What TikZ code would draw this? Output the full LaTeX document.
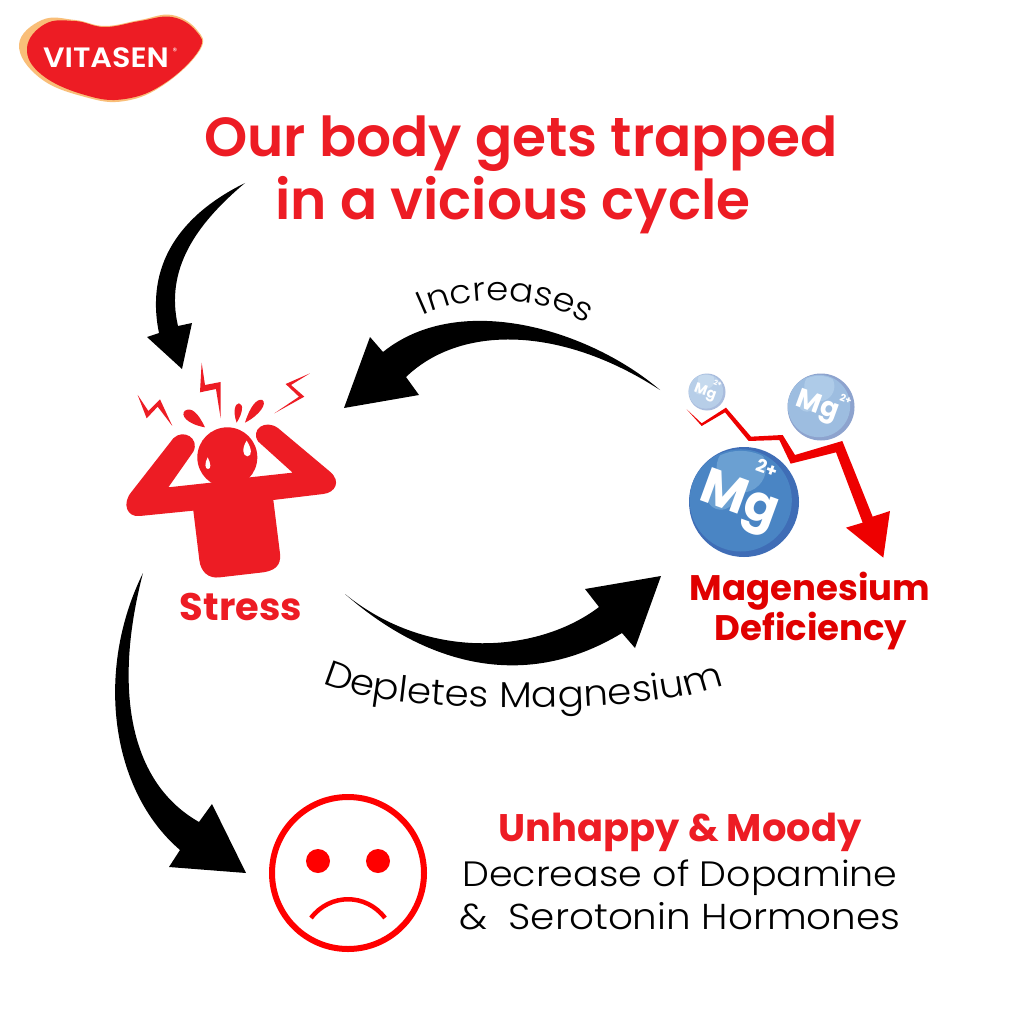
\documentclass[tikz,border=0pt]{standalone}
\usepackage{fontspec}
\setmainfont{Poppins}
\newfontfamily\semifont{Poppins SemiBold}
\newfontfamily\logofont[FakeStretch=1.08]{Poppins SemiBold}
\newfontfamily\plainfont[FakeStretch=1.08]{Poppins Light}
\usepackage{tikz}
\usetikzlibrary{decorations.text}
\definecolor{vitared}{HTML}{ED1C24}
\definecolor{vitapeach}{HTML}{F9BE78}
\definecolor{defred}{HTML}{E00000}
\definecolor{purered}{HTML}{FF0000}
\definecolor{arrowred}{HTML}{EE0000}
\def\Sz#1{\fontsize{#1}{#1}\selectfont}
\tikzset{x=1pt, y=-1pt,
  title text/.style={anchor=base, text=vitared, font=\Sz{55}\semifont},
  red label/.style={text=vitared, font=\Sz{38.4}\bfseries},
  deficiency label/.style={text=defred, font=\Sz{35.5}\bfseries},
  plain label/.style={font=\Sz{35.2}\plainfont},
  logo text/.style={text=white, font=\Sz{28}\logofont},
  sweep arrow/.style={fill=black},
  mg text/.style={text=white, rotate=-20}
}
\def\MgBall#1#2#3#4#5#6{%
\begin{scope}[shift={(#1,#2)}]
  \fill[#5] (0,0) circle (#3);
  \fill[#4] (-0.06*#3,-0.03*#3) circle (0.93*#3);
  \begin{scope}
    \clip (-0.06*#3,-0.03*#3) circle (0.90*#3);
    \fill[#6] (-0.05*#3,-0.62*#3) circle (0.45*#3);
    \fill[#6] (-0.42*#3,-0.12*#3) circle (0.26*#3);
  \end{scope}
\end{scope}
}
\begin{document}
\begin{tikzpicture}
\useasboundingbox (0,0) rectangle (1024,1024);
\fill[white] (0,0) rectangle (1024,1024);
% logo
\fill[vitapeach] plot[smooth cycle, tension=.7] coordinates {(19,45) (42,20) (75,20) (105,26) (140,20) (172,15) (197,30) (200,50) (165,84) (125,101) (85,97) (40,78)};
\fill[vitared] plot[smooth cycle, tension=.7] coordinates {(27,48) (45,24) (75,21) (105,27) (140,21) (172,17) (196,31) (199,50) (165,83) (125,99) (85,95) (42,75)};
\node[logo text] (Logo) at (106,58) {VITASEN};
\node[text=white, font=\Sz{9}] (LogoMark) at (175,51) {®};
% title
\node[title text] (TitleOne) at (521,157) {Our body gets trapped};
\node[title text] (TitleTwo) at (513,220) {in a vicious cycle};
% figure
\begin{scope}[shift={(110,350)}, scale=0.3333]
  \fill[vitared] (190,265) .. controls (220,235) and (270,265) .. (250,305) -- (175,412) -- (303,398)
    -- (420,382) -- (548,368) -- (445,275) .. controls (420,240) and (465,205) .. (505,235)
    -- (660,365) .. controls (695,395) and (675,428) .. (640,432) -- (490,450) -- (510,610)
    .. controls (515,650) and (490,662) .. (460,667) -- (330,682) .. controls (295,687) and (272,665) .. (268,630)
    -- (250,482) -- (90,498) .. controls (50,503) and (35,460) .. (65,425) -- cycle;
  \fill[vitared] (352,322) circle (90);
  \fill[white] (410,272) .. controls (395,295) and (398,318) .. (412,319) .. controls (428,318) and (425,295) .. (410,272) -- cycle;
  \fill[white] (293,322) .. controls (283,340) and (285,357) .. (294,357) .. controls (304,357) and (303,340) .. (293,322) -- cycle;
  \fill[vitared] (83,135) -- (110,205) -- (143,170) -- (187,228) -- (150,148) -- (115,183) -- cycle;
  \fill[vitared] (275,38) -- (270,127) -- (318,117) -- (332,205) -- (332,96) -- (285,105) -- cycle;
  \fill[vitared] (600,70) -- (527,102) -- (567,140) -- (493,190) -- (583,140) -- (543,105) -- cycle;
  \fill[vitared] (285,232) .. controls (230,222) and (210,195) .. (225,182) .. controls (245,170) and (265,190) .. (285,232) -- cycle;
  \fill[vitared] (380,218) .. controls (368,185) and (375,160) .. (387,160) .. controls (402,162) and (398,190) .. (380,218) -- cycle;
  \fill[vitared] (405,218) .. controls (420,170) and (440,145) .. (457,150) .. controls (472,160) and (450,195) .. (405,218) -- cycle;
\end{scope}
\node[red label] (Stress) at (241,607) {Stress};
% magnesium
\definecolor{bigbase}{HTML}{4A85C4}
\definecolor{bigrim}{HTML}{3F6DB6}
\definecolor{biglight}{HTML}{6BA0D2}
\definecolor{midbase}{HTML}{9DBDE0}
\definecolor{midrim}{HTML}{8DA3CE}
\definecolor{midlight}{HTML}{AECBE8}
\definecolor{smallbase}{HTML}{B7CEE8}
\definecolor{smallrim}{HTML}{A9BCDD}
\definecolor{smalllight}{HTML}{C6DAEE}
\MgBall{821}{407}{33.5}{midbase}{midrim}{midlight}
\MgBall{707}{392}{18.5}{smallbase}{smallrim}{smalllight}
\MgBall{744}{502}{55}{bigbase}{bigrim}{biglight}
\node[mg text, font=\Sz{50}\bfseries] (MgBig) at (739,503) {Mg};
\node[mg text, font=\Sz{18}\bfseries] (ChargeBig) at (767,468) {2+};
\node[mg text, font=\Sz{27}\bfseries] (MgMid) at (817,407) {Mg};
\node[mg text, font=\Sz{10}\bfseries] (ChargeMid) at (846,399) {2+};
\node[mg text, font=\Sz{14}\bfseries] (MgSmall) at (705,393) {Mg};
\node[mg text, font=\Sz{7}\bfseries] (ChargeSmall) at (718,383) {2+};
\begin{scope}[shift={(670,360)}, scale=0.3333]
  \fill[arrowred] (50,148) -- (95,190) -- (168,143) -- (243,230) -- (338,225) -- (375,285) -- (517,243)
    -- (608,470) -- (660,453) -- (640,593) -- (528,503) -- (578,488) -- (498,277) -- (362,311) -- (328,240)
    -- (236,243) -- (165,157) -- (95,198) -- cycle;
\end{scope}
\node[deficiency label] (DefOne) at (810,591) {Magenesium};
\node[deficiency label] (DefTwo) at (811,631) {Deficiency};
% arrows
\coordinate (TitleTail) at (245,183);
\coordinate (StressTip) at (182,369);
\coordinate (DefTail) at (660,390);
\coordinate (StressIn) at (344,408);
\coordinate (StressOut) at (345,594);
\coordinate (DefTip) at (661,576);
\coordinate (MoodTail) at (143,573);
\coordinate (MoodTip) at (246,873);
\fill[sweep arrow] (TitleTail) .. controls (180,215) and (145,265) .. (159,333) -- (147,337) -- (StressTip) -- (192,323) -- (178,326) .. controls (165,270) and (195,225) .. (TitleTail) -- cycle;
\fill[sweep arrow] (DefTail) .. controls (590,330) and (460,290) .. (383,352) -- (370,337) -- (StressIn) -- (419,395) -- (406,377) .. controls (460,325) and (560,325) .. (DefTail) -- cycle;
\fill[sweep arrow] (StressOut) .. controls (420,660) and (520,695) .. (622,633) -- (635,648) -- (DefTip) -- (585,589) -- (599,607) .. controls (540,652) and (430,663) .. (StressOut) -- cycle;
\fill[sweep arrow] (MoodTail) .. controls (95,670) and (110,790) .. (180,850) -- (169,867) -- (MoodTip) -- (212,804) -- (199,822) .. controls (125,780) and (115,680) .. (MoodTail) -- cycle;
\path[postaction={decorate}, decoration={text along path, text align=center, text={|\Sz{33}\plainfont|Increases}}] (420,317) .. controls (470,292) and (540,296) .. (590,325);
\path[postaction={decorate}, decoration={text along path, text align=center, text={|\Sz{36}\plainfont|Depletes Magnesium}}] (323,683) .. controls (380,716) and (660,716) .. (723,684);
% sad face
\node[circle, draw=purered, line width=6pt, minimum size=152pt, inner sep=0pt] (Face) at (348,873) {};
\fill[purered] (318,861) circle (12);
\fill[purered] (378,861) circle (12);
\draw[purered, line width=4.5pt] (311,918) .. controls (330,893) and (366,893) .. (385,918);
\node[red label] (Mood) at (680,832) {Unhappy \& Moody};
\node[plain label] (Dopamine) at (680,878) {Decrease of Dopamine};
\node[plain label, font=\Sz{36}\plainfont] (Serotonin) at (680,916) {\&\ \ Serotonin Hormones};
\end{tikzpicture}
\end{document}
